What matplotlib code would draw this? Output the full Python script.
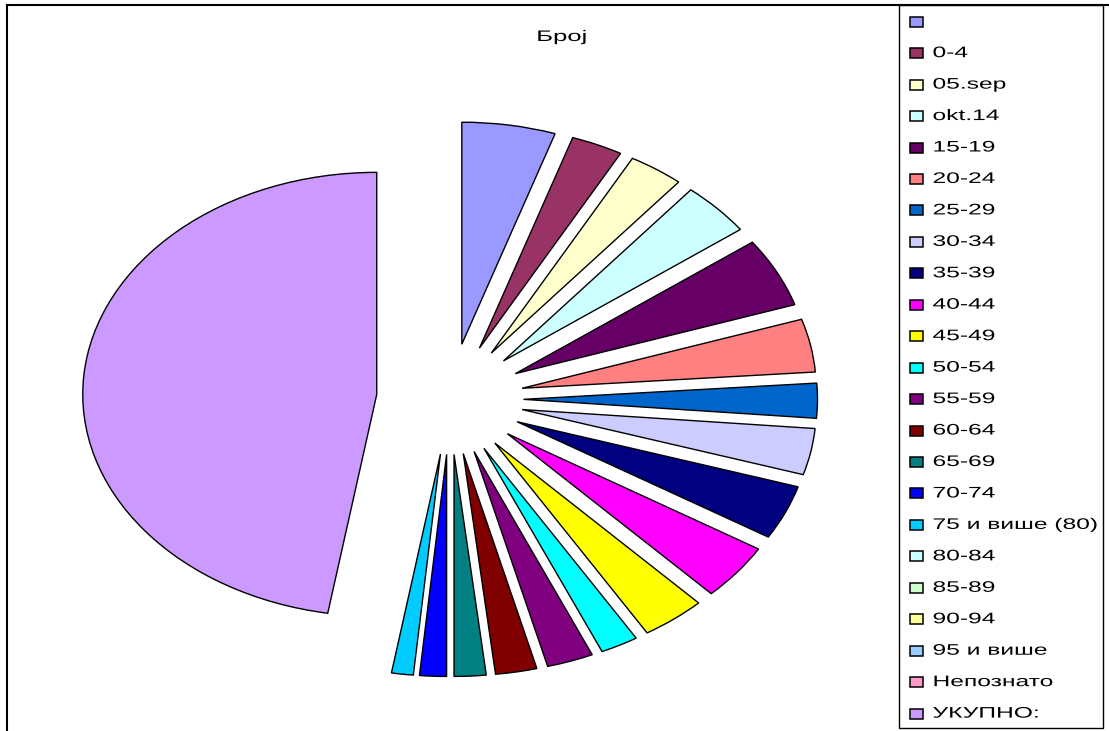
import matplotlib
matplotlib.use("Agg")
import matplotlib.pyplot as plt
from matplotlib.patches import Rectangle
from matplotlib.lines import Line2D
from matplotlib.patheffects import AbstractPathEffect
from matplotlib.transforms import Affine2D

plt.rcParams['font.family'] = ['Liberation Sans', 'DejaVu Sans']

title = "Број"
categories = ["", "0-4", "05.sep", "okt.14", "15-19", "20-24", "25-29", "30-34",
              "35-39", "40-44", "45-49", "50-54", "55-59", "60-64", "65-69",
              "70-74", "75 и више (80)", "80-84", "85-89", "90-94", "95 и више",
              "Непознато", "УКУПНО:"]
values = [18.5, 10.2, 10.9, 14.1, 18.2, 13.9, 9.1, 12.15, 14.25, 14.8, 12.7,
          7.5, 9.2, 8.2, 6.3, 5.3, 4.3, 0, 0, 0, 0, 0, 170.4]
colors = ["#9999FF", "#993366", "#FFFFCC", "#CCFFFF", "#660066", "#FF8080",
          "#0066CC", "#CCCCFF", "#000080", "#FF00FF", "#FFFF00", "#00FFFF",
          "#800080", "#800000", "#008080", "#0000FF", "#00CCFF", "#CCFFFF",
          "#CCFFCC", "#FFFF99", "#99CCFF", "#FF99CC", "#CC99FF"]

W, H = 1109, 731
DPI = 100
fig = plt.figure(figsize=(W / DPI, H / DPI), dpi=DPI)

# pie geometry (pixels)
cx, cy = 450.0, 399.0
rx, ry = 294.0, 222.0

ax = fig.add_axes([0, 0, 1, 1])
nz = [(v, c) for v, c in zip(values, colors) if v > 0]
ax.pie([v for v, c in nz], colors=[c for v, c in nz], startangle=90,
       counterclock=False, explode=[0.25] * len(nz), radius=1.0,
       wedgeprops=dict(edgecolor="black", linewidth=1.0))
ax.set_aspect("auto")
ax.set_xlim(-cx / rx, (W - cx) / rx)
ax.set_ylim(-(H - cy) / ry, cy / ry)
ax.axis("off")


def fx(px):
    return px / W


def fy(py):
    return 1 - py / H


class StretchX(AbstractPathEffect):
    """Draw text glyphs stretched horizontally about a pixel anchor."""

    def __init__(self, sx, x0):
        super().__init__()
        self.sx = sx
        self.x0 = x0

    def draw_path(self, renderer, gc, tpath, affine, rgbFace=None):
        a = affine + Affine2D().translate(-self.x0, 0).scale(self.sx, 1.0).translate(self.x0, 0)
        renderer.draw_path(gc, tpath, a, rgbFace)


SX = 1.61
FS = 11

# outer chart frame
fig.add_artist(Line2D([fx(6.5), fx(6.5)], [fy(4.5), fy(H + 5)], color="black",
                      lw=1.5, transform=fig.transFigure))
fig.add_artist(Line2D([fx(6.5), fx(W + 5)], [fy(4.5), fy(4.5)], color="black",
                      lw=1.5, transform=fig.transFigure))

# title
fig.text(fx(561.5), fy(37), title, ha="center", va="center", fontsize=FS,
         path_effects=[StretchX(1.68, 561.5)])

# legend box
fig.add_artist(Rectangle((fx(899), fy(728)), fx(1103) - fx(899), fy(4.5) - fy(728),
                         transform=fig.transFigure, fill=False,
                         edgecolor="black", lw=1.0))
y0, dy = 21.7, 31.45
tx = 932.5
for i, (lab, col) in enumerate(zip(categories, colors)):
    yy = y0 + i * dy
    fig.add_artist(Rectangle((fx(910), fy(yy + 5)), fx(923) - fx(910),
                             fy(yy - 5) - fy(yy + 5), transform=fig.transFigure,
                             facecolor=col, edgecolor="black", lw=1.1))
    fig.text(fx(tx), fy(yy), lab, ha="left", va="center", fontsize=FS,
             path_effects=[StretchX(SX, tx)])

fig.savefig("out.png", dpi=DPI)
